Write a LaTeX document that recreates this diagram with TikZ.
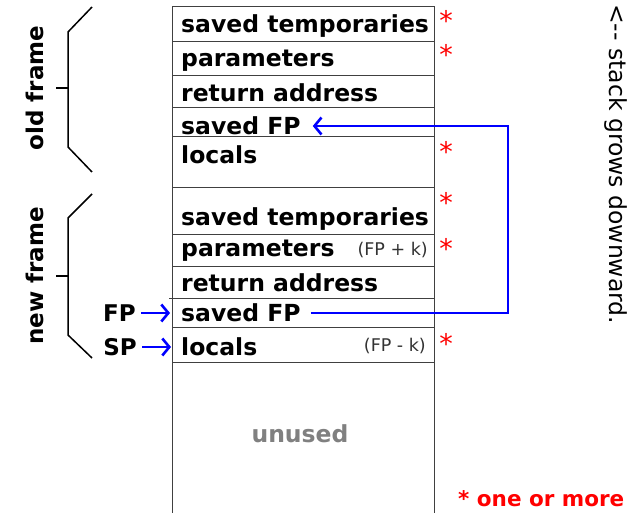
\documentclass[tikz,border=0pt]{standalone}
\usepackage{fontspec}
\setmainfont{DejaVu Sans}
\usetikzlibrary{arrows.meta}
\tikzset{
  cellline/.style={draw=black!75, line width=1pt},
  lbl/.style={anchor=west, font=\bfseries\fontsize{23.5}{23.5}\selectfont, inner sep=0pt},
  offs/.style={anchor=east, font=\fontsize{17.5}{17.5}\selectfont, inner sep=0pt, text=black!80},
  star/.style={text=red, font=\fontsize{27}{27}\selectfont, inner sep=0pt},
  ptr/.style={blue, line width=2.6pt, -{Straight Barb[length=7pt,width=17pt,line width=2.6pt]}},
  brace/.style={black, line width=1.5pt},
  side/.style={font=\bfseries\fontsize{23}{23}\selectfont, inner sep=0pt},
}
\begin{document}
\begin{tikzpicture}[x=1pt,y=-1pt]
\useasboundingbox (0,0) rectangle (632,513);
\fill[white] (0,0) rectangle (632,513);

% stack column
\draw[cellline] (172,513) -- (172,7) -- (434,7) -- (434,513);
\foreach \yy in {42,76,108,137,188,235,267,327,362}
  \draw[cellline] (172,\yy) -- (434,\yy);
\draw[cellline] (169,298) -- (434,298);

% old frame
\node[lbl] (st1) at (181,26) {saved temporaries};
\node[lbl] (pa1) at (181,61) {parameters};
\node[lbl] (ra1) at (181,93) {return address};
\node[lbl, inner xsep=12pt] (fpold) at (169,126) {saved FP};
\node[lbl] (lo1) at (181,155) {locals};

% new frame
\node[lbl] (st2) at (181,219) {saved temporaries};
\node[lbl] (pa2) at (181,251) {parameters};
\node[offs] (fpk) at (428,250) {(FP + k)};
\node[lbl] (ra2) at (181,283) {return address};
\node[lbl, inner xsep=10pt] (fpnew) at (171,313) {saved FP};
\node[lbl] (lo2) at (181,347) {locals};
\node[offs] (fmk) at (426,346) {(FP - k)};

\node[font=\bfseries\fontsize{23.5}{23.5}\selectfont, text=black!50, inner sep=0pt] (un) at (300,434) {unused};

% "one or more" markers
\foreach \yy/\nm in {20/s1,54/s2,151/s3,202/s4,248/s5,343/s6}
  \node[star] (\nm) at (446,\yy) {*};
\node[anchor=west, text=red, font=\bfseries\fontsize{21.5}{21.5}\selectfont, inner sep=0pt] (key) at (458,499) {* one or more};

% frame pointer link
\coordinate (rt) at (508,0);
\draw[ptr] (fpnew.east) -- (fpnew.east -| rt) -- (fpold.east -| rt) -- (fpold.east);

% FP and SP registers
\node[side, anchor=east] (fp) at (136,313) {FP};
\node[side, anchor=east] (sp) at (137,347) {SP};
\draw[ptr] (fp.east) ++(5,0) -- (170,313);
\draw[ptr] (sp.east) ++(5,0) -- (171,347);

% frame brackets
\draw[brace] (92,7) -- (68,32) -- (68,147) -- (92,172);
\draw[brace] (56,88) -- (68,88);
\draw[brace] (92,194) -- (68,218) -- (68,335) -- (92,358);
\draw[brace] (56,276) -- (68,276);
\node[side, rotate=90] (old) at (35,88) {old frame};
\node[side, rotate=90] (new) at (35,276) {new frame};

% direction note
\node[rotate=-90, font=\fontsize{23.5}{23.5}\selectfont, inner sep=0pt, anchor=west] (grow) at (616,4) {<-{}- stack grows downward.};
\end{tikzpicture}
\end{document}
